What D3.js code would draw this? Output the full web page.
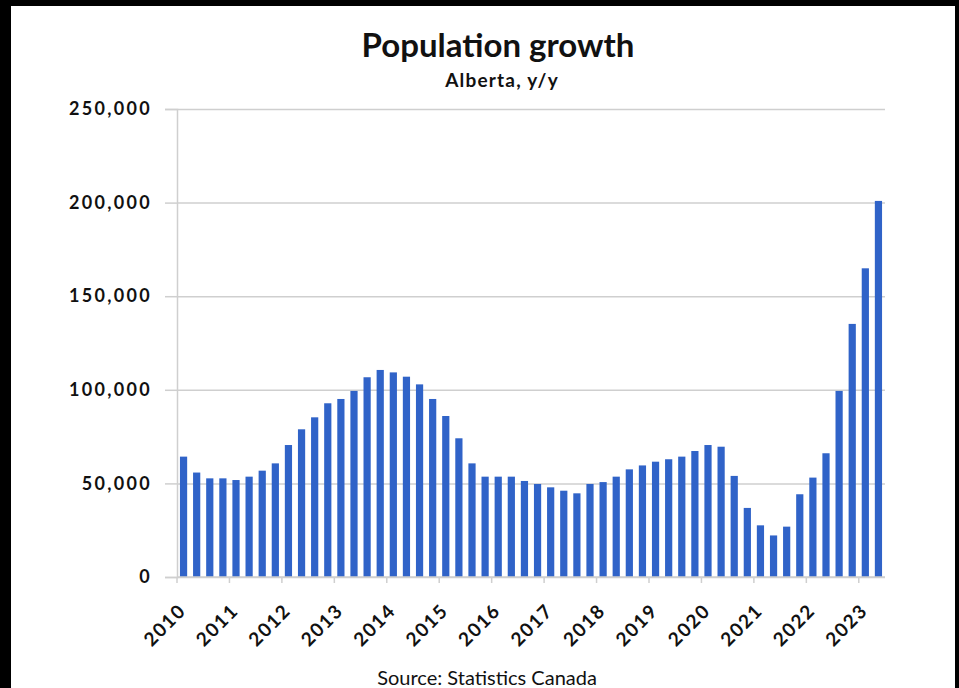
<!DOCTYPE html>
<html>
<head>
<meta charset="utf-8">
<script src="https://cdn.jsdelivr.net/npm/d3@7"></script>
<style>
  body { margin: 0; background: #000; }
  svg { display: block; }
  text { font-family: Lato, "Open Sans", sans-serif; fill: #111; }
</style>
</head>
<body>
<script>
  // quarterly y/y population growth, Alberta, 2010Q1 - 2023Q2
  var years = ["2010","2011","2012","2013","2014","2015","2016",
               "2017","2018","2019","2020","2021","2022","2023"];
  var quarters = [];
  years.forEach(function(y) {
    ["Q1","Q2","Q3","Q4"].forEach(function(q) { quarters.push(y + q); });
  });
  quarters = quarters.slice(0, 54);

  var growth = [
    64300, 55800, 52700, 52700,      // 2010
    51800, 53600, 56800, 60700,      // 2011
    70500, 78900, 85300, 92800,      // 2012
    95100, 99400, 106700, 110600,    // 2013
    109300, 107000, 102900, 95100,   // 2014
    86000, 74100, 60700, 53600,      // 2015
    53600, 53600, 51300, 49700,      // 2016
    47900, 46100, 44700, 49700,      // 2017
    50700, 53600, 57500, 59600,      // 2018
    61600, 62900, 64300, 67300,      // 2019
    70500, 69600, 54000, 36900,      // 2020
    27600, 22200, 26900, 44200,      // 2021
    53100, 66100, 99400, 135200,     // 2022
    164900, 200900                   // 2023
  ];

  var yTicks = [0, 50000, 100000, 150000, 200000, 250000];

  var width = 959, height = 688;
  var plot = {left: 177, right: 885, top: 109, bottom: 577};

  var svg = d3.select("body").append("svg")
      .attr("width", width)
      .attr("height", height);

  // white panel inside the black frame
  svg.append("rect")
      .attr("x", 11).attr("y", 6)
      .attr("width", 944).attr("height", height)
      .attr("fill", "#fff");

  var xScale = d3.scaleBand()
      .domain(quarters)
      .range([plot.left, plot.right])
      .paddingInner(0.45)
      .paddingOuter(0.225);

  var yScale = d3.scaleLinear()
      .domain([0, 250000])
      .range([plot.bottom, plot.top]);

  // gridlines
  svg.append("g")
      .attr("class", "grid")
      .attr("transform", "translate(" + plot.left + ",0)")
      .call(d3.axisLeft(yScale).tickValues(yTicks)
            .tickSize(-(plot.right - plot.left)).tickFormat(""))
      .call(function(g) {
        g.select(".domain").remove();
        g.selectAll("line").attr("stroke", "#cfcfcf").attr("stroke-width", 1.5);
      });

  // y axis with outside ticks and labels
  svg.append("g")
      .attr("class", "axis axis--y")
      .attr("transform", "translate(" + plot.left + ",0)")
      .call(d3.axisLeft(yScale).tickValues(yTicks)
            .tickSize(12).tickPadding(13).tickFormat(d3.format(",")))
      .call(function(g) {
        g.select(".domain").attr("stroke", "#cfcfcf").attr("stroke-width", 1.5);
        g.selectAll("line").attr("stroke", "#cfcfcf").attr("stroke-width", 1.5);
        g.selectAll("text")
          .attr("font-size", 18)
          .attr("font-weight", "bold")
          .attr("letter-spacing", 2.3)
          .attr("fill", "#111")
          .style("font-family", "Lato, sans-serif");
      });

  // bars
  svg.append("g")
    .selectAll("rect")
    .data(growth)
    .enter().append("rect")
      .attr("x", function(d, i) { return xScale(quarters[i]); })
      .attr("y", function(d) { return yScale(d); })
      .attr("width", xScale.bandwidth())
      .attr("height", function(d) { return yScale(0) - yScale(d); })
      .attr("fill", "#3063c8");

  // x axis baseline
  svg.append("line")
      .attr("x1", plot.left).attr("x2", plot.right)
      .attr("y1", yScale(0)).attr("y2", yScale(0))
      .attr("stroke", "#cfcfcf").attr("stroke-width", 1.5);

  // year boundary ticks and rotated labels
  var halfGap = xScale.step() * xScale.paddingInner() / 2;
  var yearG = svg.append("g").attr("class", "axis axis--x");

  yearG.selectAll("line")
    .data(years)
    .enter().append("line")
      .attr("x1", function(d) { return xScale(d + "Q1") - halfGap; })
      .attr("x2", function(d) { return xScale(d + "Q1") - halfGap; })
      .attr("y1", yScale(0))
      .attr("y2", yScale(0) + 6)
      .attr("stroke", "#cfcfcf").attr("stroke-width", 1.5);

  yearG.selectAll("text")
    .data(years)
    .enter().append("text")
      .attr("transform", function(d) {
        var cx = xScale(d + "Q1") + xScale.bandwidth() / 2 + 3.5;
        return "translate(" + cx + "," + (yScale(0) + 35) + ") rotate(-45)";
      })
      .attr("text-anchor", "end")
      .attr("font-size", 19)
      .attr("font-weight", "bold")
      .attr("letter-spacing", 1.5)
      .text(function(d) { return d; });

  // titles
  svg.append("text")
      .attr("x", 498).attr("y", 57)
      .attr("text-anchor", "middle")
      .attr("font-size", 33)
      .attr("font-weight", "bold")
      .text("Population growth");

  svg.append("text")
      .attr("x", 502).attr("y", 87)
      .attr("text-anchor", "middle")
      .attr("font-size", 19)
      .attr("font-weight", "bold")
      .attr("letter-spacing", 1.2)
      .text("Alberta, y/y");

  svg.append("text")
      .attr("x", 487).attr("y", 685)
      .attr("text-anchor", "middle")
      .attr("font-size", 20)
      .attr("fill", "#333")
      .text("Source: Statistics Canada");
</script>
</body>
</html>
